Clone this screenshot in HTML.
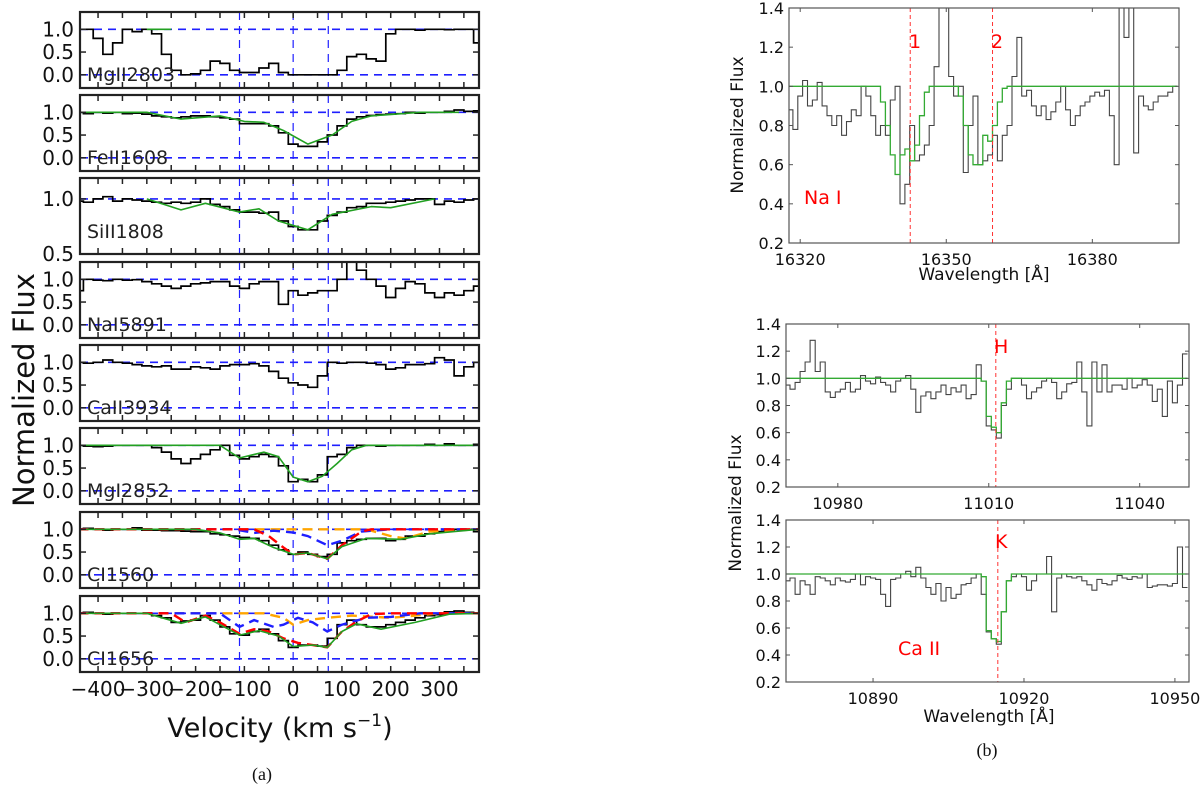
<!DOCTYPE html>
<html><head><meta charset="utf-8"><style>
body{margin:0;background:#fff}
svg{display:block;font-family:"DejaVu Sans","Liberation Sans",sans-serif}
</style></head><body>
<svg id="fig" width="1200" height="789" viewBox="0 0 1200 789" xmlns="http://www.w3.org/2000/svg"></svg>
<script>
// ---------- data: left panels (velocity, km/s) ----------
const panelNames = ["MgII2803","FeII1608","SiII1808","NaI5891","CaII3934","MgI2852","CI1560","CI1656"];
const velTicks = [-400,-300,-200,-100,0,100,200,300];
const compLines = [-110, 0, 72];
const mgii_v = [-440,-420,-400,-380,-360,-340,-320,-300,-280,-260,-240,-220,-200,-180,-160,-140,-120,-100,-80,-60,-40,-20,0,20,40,60,80,100,120,140,160,180,200,220,240,260,280,300,320,340,360,380];
const mgii_f = [1.0,1.0,0.8,0.45,0.7,1.0,0.95,1.0,0.9,0.45,0.1,0.0,0.02,0.1,0.3,0.25,0.1,0.05,0.05,0.15,0.25,0.05,0.0,0.0,0.0,0.0,0.0,0.1,0.4,0.45,0.35,0.3,0.9,1.0,1.0,0.98,1.0,1.0,0.99,1.0,1.0,0.7];
const feii_f = [1.0,0.97,1.0,0.98,1.0,0.97,0.98,0.96,0.92,0.9,0.88,0.9,0.92,0.92,0.9,0.88,0.85,0.75,0.75,0.75,0.7,0.55,0.3,0.25,0.25,0.35,0.5,0.7,0.85,0.9,0.93,0.95,0.96,0.97,1.0,0.98,1.0,1.0,1.02,1.05,1.02,1.03];
const siii_f = [0.98,0.97,1.0,1.02,0.98,1.0,0.99,0.98,0.97,0.96,0.97,0.96,0.97,1.0,0.95,0.93,0.9,0.88,0.88,0.87,0.88,0.8,0.75,0.72,0.72,0.8,0.85,0.88,0.92,0.93,0.96,0.96,0.97,0.98,0.99,1.0,1.0,0.95,0.98,0.97,0.99,1.0];
const naii_f = [0.75,1.0,0.98,0.97,1.0,0.98,0.99,0.95,0.9,0.85,0.8,0.85,0.9,0.92,0.95,0.95,0.85,0.8,0.9,0.95,0.95,0.45,0.75,0.65,0.7,0.75,0.75,1.0,1.45,1.2,1.0,0.85,0.6,0.8,0.95,0.9,0.7,0.6,0.7,0.65,0.75,0.85];
const caii_f = [1.0,0.98,1.0,1.05,1.0,0.98,0.95,0.92,0.9,0.92,0.85,0.85,0.9,0.88,0.85,0.92,0.95,0.95,0.97,0.92,0.8,0.65,0.55,0.5,0.45,0.7,1.0,0.98,1.0,1.0,0.98,0.95,0.85,0.88,0.95,0.95,0.97,1.1,1.05,0.7,0.9,1.0];
const mgi_f = [1.0,0.98,0.97,0.98,1.0,1.0,1.0,1.0,0.95,0.85,0.7,0.6,0.7,0.8,0.9,1.0,0.78,0.7,0.75,0.8,0.75,0.55,0.2,0.25,0.2,0.35,0.75,0.8,0.95,1.0,1.0,0.98,1.0,1.0,1.0,1.0,1.02,1.0,1.03,1.0,1.0,1.02];
const ci60_f = [1.0,1.02,1.0,0.98,1.0,1.0,1.03,0.98,0.98,0.97,0.97,0.96,0.95,0.95,0.9,0.88,0.85,0.82,0.8,0.75,0.65,0.55,0.45,0.5,0.45,0.4,0.45,0.7,0.75,0.78,0.8,0.8,0.75,0.78,0.85,0.85,0.9,0.95,0.97,1.0,1.0,0.95];
const ci56_f = [1.0,1.02,1.0,0.98,1.0,1.0,1.0,1.0,0.95,0.9,0.8,0.83,0.85,0.95,0.85,0.7,0.55,0.52,0.6,0.65,0.55,0.4,0.25,0.3,0.3,0.28,0.45,0.75,0.85,0.75,0.7,0.7,0.75,0.8,0.85,0.9,0.95,0.97,1.03,1.05,1.02,1.0];
const fluxSets = [mgii_f,feii_f,siii_f,naii_f,caii_f,mgi_f,ci60_f,ci56_f];
const fitV = [
 [-300,-250],
 [-440,-300,-230,-150,-100,-60,-20,30,80,120,160,260,340],
 [-300,-230,-180,-110,-70,-30,30,80,160,200,290],
 [],[],
 [-440,-150,-110,-60,-30,0,30,60,90,120,150,380],
 [-440,-200,-150,-110,-80,-40,0,30,70,100,150,220,280,380],
 [-440,-300,-230,-180,-110,-70,-30,0,40,70,100,130,180,250,320,380]];
const fitF = [
 [1.0,1.0],
 [1.0,1.0,0.85,0.92,0.8,0.78,0.6,0.3,0.5,0.8,0.92,1.0,1.0],
 [1.0,0.9,0.96,0.88,0.91,0.8,0.72,0.86,0.93,0.92,1.0],
 [],[],
 [1.0,1.0,0.72,0.85,0.75,0.3,0.2,0.32,0.6,0.9,1.0,1.0],
 [1.0,1.0,0.92,0.78,0.8,0.6,0.45,0.48,0.35,0.62,0.8,0.78,0.9,1.0],
 [1.0,1.0,0.78,0.92,0.52,0.62,0.5,0.27,0.3,0.25,0.6,0.77,0.65,0.8,0.98,1.0]];
const ci60_redV=[-440,-80,-50,-20,0,30,70,100,140,160,380], ci60_redF=[1.0,1.0,0.85,0.6,0.45,0.48,0.35,0.65,0.95,1.0,1.0];
const ci60_bluV=[-440,-120,-80,-40,0,30,70,100,140,200,380], ci60_bluF=[1.0,1.0,0.92,0.97,0.93,0.85,0.65,0.75,0.95,1.0,1.0];
const ci60_orV=[-440,150,200,230,280,380], ci60_orF=[1.0,1.0,0.85,0.8,0.95,1.0];
const ci56_redV=[-440,-250,-220,-180,-150,-110,-80,-50,-20,10,40,70,100,130,160,200,380], ci56_redF=[1.0,1.0,0.8,0.95,0.8,0.55,0.65,0.6,0.45,0.35,0.3,0.25,0.6,0.82,0.98,1.0,1.0];
const ci56_bluV=[-440,-150,-110,-80,-40,-20,10,40,70,100,150,200,260,380], ci56_bluF=[1.0,1.0,0.7,0.85,0.7,0.75,0.9,0.8,0.6,0.75,0.9,0.92,1.0,1.0];
const ci56_orV=[-440,-60,-20,0,30,70,120,200,250,300,380], ci56_orF=[1.0,1.0,0.9,0.75,0.85,0.9,0.95,0.9,0.95,1.0,1.0];

// ---------- data: right panels (wavelength) ----------
const na_l0 = 16318, na_flux = [0.88,0.78,0.95,1.03,0.9,0.93,1.02,0.9,0.85,0.8,0.85,0.75,0.82,0.88,0.85,1.0,0.95,0.85,0.75,0.8,0.75,0.93,1.0,0.4,0.5,0.8,0.62,0.65,0.7,0.8,1.1,1.5,1.5,1.05,0.95,1.0,0.56,0.8,0.95,0.6,0.62,0.65,0.75,0.62,0.75,0.8,1.05,1.25,0.95,0.98,0.9,0.85,0.9,0.83,0.87,0.92,1.0,0.88,0.8,0.85,0.9,0.92,0.95,0.97,0.95,0.98,0.85,0.6,1.5,1.25,1.5,0.66,0.95,0.9,0.88,0.92,0.95,0.95,0.97,1.0];
const na_fitL = [16336,16337,16338,16339,16340,16341,16342,16343,16344,16345,16346,16352,16353,16354,16355,16356,16357,16358,16359,16360,16361,16362];
const na_fitF = [1.0,0.92,0.8,0.65,0.55,0.65,0.68,0.62,0.7,0.85,0.97,1.0,0.95,0.8,0.65,0.6,0.6,0.75,0.72,0.8,0.92,0.99];
const h_l0 = 10970, h_flux = [0.95,0.92,0.97,1.05,1.12,1.28,1.05,1.12,0.9,0.86,0.9,0.92,0.97,0.9,0.92,1.02,0.98,0.96,1.01,0.97,0.95,0.9,0.98,1.0,1.02,0.92,0.75,0.87,0.9,0.85,0.9,0.95,0.88,0.93,0.9,0.95,0.85,0.88,1.1,0.98,0.65,0.62,0.56,0.8,0.92,1.0,1.0,0.95,0.85,0.9,0.93,0.98,1.0,0.97,0.85,0.9,0.96,0.97,1.12,0.9,0.65,1.12,0.9,1.1,0.9,0.95,0.95,0.92,1.0,0.93,0.95,0.99,0.95,0.83,0.92,0.72,0.98,0.82,0.95,1.18];
const h_fitL = [11009,11010,11011,11012,11013,11014], h_fitF = [0.98,0.72,0.64,0.6,0.82,0.98];
const k_l0 = 10873, k_flux = [0.95,0.97,0.85,0.95,0.92,0.85,0.98,0.97,0.95,0.92,0.97,0.95,0.94,0.96,1.0,0.92,0.98,0.97,0.96,0.85,0.76,0.96,0.97,1.0,1.02,0.98,1.05,0.97,0.9,0.85,0.93,0.8,0.9,0.82,0.85,0.92,0.93,0.97,1.0,0.85,0.57,0.52,0.48,0.72,0.95,0.98,1.0,0.98,0.88,0.95,1.0,1.0,1.13,0.72,0.97,1.0,0.98,0.97,0.98,0.95,0.92,0.88,0.96,0.93,0.92,0.95,0.99,0.97,0.96,0.98,0.97,1.0,0.9,0.91,0.92,0.92,0.91,0.93,1.2,0.9];
const k_fitL = [10912,10913,10914,10915,10916,10917], k_fitF = [0.98,0.58,0.52,0.5,0.72,0.95];

// ---------- drawing ----------
const NS="http://www.w3.org/2000/svg", svg=document.getElementById('fig');
function mk(tag, at, parent){const e=document.createElementNS(NS,tag);for(const k in at)e.setAttribute(k,at[k]);(parent||svg).appendChild(e);return e;}
function txt(s, at, parent){const e=mk('text',at,parent);e.textContent=s;return e;}
let clipN=0;
function clip(x,y,w,h){const id='c'+(clipN++);const cp=mk('clipPath',{id:id});mk('rect',{x:x,y:y,width:w,height:h},cp);return 'url(#'+id+')';}
function stepPath(xs, ys, X, Y, half){let d='';for(let i=0;i<xs.length;i++){const x0=X(xs[i]-half),x1=X(xs[i]+half),y=Y(ys[i]);d+=(i?'L':'M')+x0.toFixed(1)+','+y.toFixed(1)+'L'+x1.toFixed(1)+','+y.toFixed(1);}return d;}
function linePath(xs, ys, X, Y){return xs.map((v,i)=>(i?'L':'M')+X(v).toFixed(1)+','+Y(ys[i]).toFixed(1)).join('');}

const LX0=80, LX1=479, V0=-437, V1=381;
const X = v => LX0 + (v - V0) / (V1 - V0) * (LX1 - LX0);
const tops=[12,95,178,262,345,428,512,596], PH=76;
const velStep = 20;
const velGrid = mgii_v;
for(let p=0;p<8;p++){
  const top=tops[p], bot=top+PH;
  const yr = p===2 ? [0.5,1.19] : [-0.29,1.38];
  const Y = f => bot - (f - yr[0]) / (yr[1]-yr[0]) * PH;
  const g=mk('g',{});
  
  
  const cp=clip(LX0,top,LX1-LX0,PH);
  const inner=mk('g',{'clip-path':cp},g);
  const hl = p===2 ? [1.0] : [1.0,0.0];
  hl.forEach(h=>{const l=mk('line',{x1:LX0,x2:LX1,y1:Y(h),y2:Y(h),stroke:'#1f1fff','stroke-width':1.6,'stroke-dasharray':'8,6'},inner);});
  compLines.forEach(v=>{const l=mk('line',{x1:X(v),x2:X(v),y1:top,y2:bot,stroke:'#1f1fff','stroke-width':1.2,'stroke-dasharray':'8,6'},inner);});
  const sp=mk('path',{d:stepPath(velGrid,fluxSets[p],X,Y,velStep/2),fill:'none',stroke:'#000','stroke-width':1.7},inner);
  
  
  if(p===6||p===7){
    const comps = p===6 ? [[ci60_orV,ci60_orF,'#ffa500'],[ci60_bluV,ci60_bluF,'#1f1fff'],[ci60_redV,ci60_redF,'#ff0000']] : [[ci56_orV,ci56_orF,'#ffa500'],[ci56_bluV,ci56_bluF,'#1f1fff'],[ci56_redV,ci56_redF,'#ff0000']];
    comps.forEach(c=>{const l=mk('path',{d:linePath(c[0],c[1],X,Y),fill:'none',stroke:c[2],'stroke-width':2.4,'stroke-dasharray':'10,6'},inner);});
  }
  if(fitV[p].length){const fl=mk('path',{d:linePath(fitV[p],fitF[p],X,Y),fill:'none',stroke:'#22a022','stroke-width':1.6,'stroke-linejoin':'round'},inner);}
  mk('rect',{x:LX0,y:top,width:LX1-LX0,height:PH,fill:'none',stroke:'#222','stroke-width':2.2},g);
  for(let v=-400;v<=350;v+=50){mk('line',{x1:X(v),x2:X(v),y1:top,y2:top+6,stroke:'#222','stroke-width':1.5},g);mk('line',{x1:X(v),x2:X(v),y1:bot,y2:bot-6,stroke:'#222','stroke-width':1.5},g);}
  const yt = p===2 ? [1.0,0.5] : [1.0,0.5,0.0];
  yt.forEach(t=>{mk('line',{x1:LX0,x2:LX0+6,y1:Y(t),y2:Y(t),stroke:'#222','stroke-width':1.5},g);mk('line',{x1:LX1,x2:LX1-6,y1:Y(t),y2:Y(t),stroke:'#222','stroke-width':1.5},g);
    const tl=txt(t.toFixed(1),{x:74,y:Y(t)+7,'text-anchor':'end','font-size':20,fill:'#111'},g);});
  const lb=txt(panelNames[p],{x:87,y:top+(p===2?60:69),'font-size':19,fill:'#222'},g);
  
  
}
velTicks.forEach(v=>{const t=txt(v<0?'\u2212'+(-v):String(v),{x:X(v),y:696,'text-anchor':'middle','font-size':20,fill:'#111'});});
let t1=txt('',{x:280,y:737,'text-anchor':'middle','font-size':27,fill:'#111'});
t1.innerHTML='Velocity (km s<tspan dy="-11" font-size="17">\u22121</tspan><tspan dy="11">)</tspan>';

let t2=txt('Normalized Flux',{x:0,y:0,transform:'translate(34,390) rotate(-90)','text-anchor':'middle','font-size':29,fill:'#111'});

let t3=txt('(a)',{x:262,y:780,'text-anchor':'middle','font-size':18,'font-family':'Liberation Serif, serif',fill:'#111'});


function rpanel(name, x0,x1,top,bot,l0,l1,lstart,flux,fitL,fitF,ticks,redL){
  const Xr=l=>x0+(l-l0)/(l1-l0)*(x1-x0), Yr=f=>bot-(f-0.2)/1.2*(bot-top);
  const g=mk('g',{});
  
  
  const inner=mk('g',{'clip-path':clip(x0,top,x1-x0,bot-top)},g);
  const ls=flux.map((_,i)=>lstart+i);
  const sp=mk('path',{d:stepPath(ls,flux,Xr,Yr,0.5),fill:'none',stroke:'#444','stroke-width':1.1},inner);
  
  const fv=ls.map(l=>{const k=fitL.indexOf(l);return k>=0?fitF[k]:1.0;});
  const fp=mk('path',{d:stepPath(ls,fv,Xr,Yr,0.5),fill:'none',stroke:'#33aa33','stroke-width':1.3},inner);
  
  redL.forEach(l=>{const r=mk('line',{x1:Xr(l),x2:Xr(l),y1:top,y2:bot,stroke:'#ff3333','stroke-width':1,'stroke-dasharray':'4,3'},g);});
  mk('rect',{x:x0,y:top,width:x1-x0,height:bot-top,fill:'none',stroke:'#555','stroke-width':1.2},g);
  [0.2,0.4,0.6,0.8,1.0,1.2,1.4].forEach(v=>{mk('line',{x1:x0,x2:x0+4,y1:Yr(v),y2:Yr(v),stroke:'#555'},g);mk('line',{x1:x1,x2:x1-4,y1:Yr(v),y2:Yr(v),stroke:'#555'},g);
    const tl=txt(v.toFixed(1),{x:x0-5,y:Yr(v)+6,'text-anchor':'end','font-size':16,fill:'#111'},g);});
  ticks.forEach(l=>{mk('line',{x1:Xr(l),x2:Xr(l),y1:bot,y2:bot-4,stroke:'#555'},g);mk('line',{x1:Xr(l),x2:Xr(l),y1:top,y2:top+4,stroke:'#555'},g);
    const tl=txt(String(l),{x:Xr(l),y:bot+22,'text-anchor':'middle','font-size':16,fill:'#111'},g);});
  return {Xr,Yr,g};
}
rpanel('panel-na-i',789,1179,8,243,16317.7,16397.8,na_l0,na_flux,na_fitL,na_fitF,[16320,16350,16380],[16342.6,16359.5]);
rpanel('panel-ca-h',786,1189,324,487,10969.7,11049.8,h_l0,h_flux,h_fitL,h_fitF,[10980,11010,11040],[11011.4]);
rpanel('panel-ca-k',786,1189,520,682,10872.7,10952.8,k_l0,k_flux,k_fitL,k_fitF,[10890,10920,10950],[10914.8]);
function red(s,x,y,name,fs){const t=txt(s,{x:x,y:y,'font-size':fs||19,fill:'#ff0000'});}
red('1',909,48,'line-label-1');red('2',991,48,'line-label-2');red('Na I',804,204,'ion-label-na');
red('H',994,353,'line-label-h');red('K',995,548,'line-label-k');red('Ca II',898,655,'ion-label-ca');
function lbl(s,at,name){const t=txt(s,at);}
lbl('Wavelength [\u00c5]',{x:984,y:280,'text-anchor':'middle','font-size':17,fill:'#111'},'x-axis-title-top');
lbl('Wavelength [\u00c5]',{x:989,y:722,'text-anchor':'middle','font-size':17,fill:'#111'},'x-axis-title-bottom');
lbl('Normalized Flux',{transform:'translate(743,125) rotate(-90)','text-anchor':'middle','font-size':17,fill:'#111'},'y-axis-title-top');
lbl('Normalized Flux',{transform:'translate(741,503) rotate(-90)','text-anchor':'middle','font-size':17,fill:'#111'},'y-axis-title-bottom');
lbl('(b)',{x:987,y:756,'text-anchor':'middle','font-size':18,'font-family':'Liberation Serif, serif',fill:'#111'},'caption-b');
</script>
</body></html>
